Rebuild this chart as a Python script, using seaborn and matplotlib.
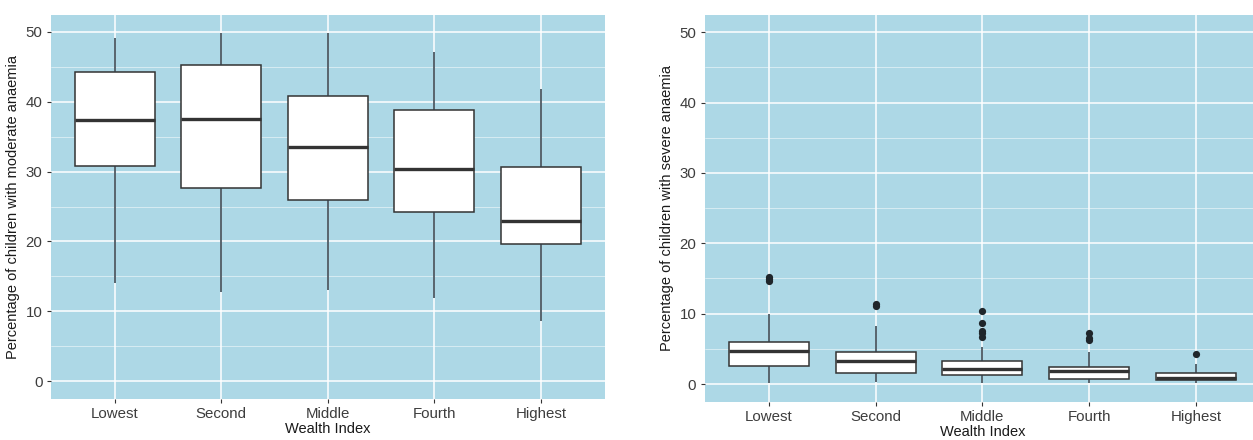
import numpy as np
import pandas as pd
import matplotlib
matplotlib.use("Agg")
import matplotlib.pyplot as plt
from matplotlib.ticker import MultipleLocator
import seaborn as sns

# Wealth index groups
categories = ["Lowest", "Second", "Middle", "Fourth", "Highest"]

# Moderate anaemia: five-number summaries per wealth group
moderate_low = [14.0, 12.7, 13.0, 11.9, 8.6]
moderate_q1 = [30.8, 27.6, 25.9, 24.2, 19.6]
moderate_med = [37.4, 37.5, 33.5, 30.4, 22.9]
moderate_q3 = [44.3, 45.3, 40.9, 38.8, 30.6]
moderate_high = [49.2, 49.9, 49.9, 47.2, 41.8]

# Severe anaemia: five-number summaries per wealth group
severe_low = [0.1, 0.3, 0.1, 0.1, 0.1]
severe_q1 = [2.5, 1.6, 1.3, 0.7, 0.5]
severe_med = [4.7, 3.2, 2.1, 1.8, 0.8]
severe_q3 = [5.9, 4.5, 3.3, 2.4, 1.6]
severe_high = [10.0, 8.3, 5.3, 4.5, 2.8]

# Severe anaemia: outlying districts
severe_outlier_group = ["Lowest", "Lowest", "Lowest", "Second", "Second",
                        "Middle", "Middle", "Middle", "Middle", "Middle",
                        "Fourth", "Fourth", "Fourth", "Highest"]
severe_outlier_value = [14.6, 14.9, 15.2, 11.1, 11.4,
                        6.7, 7.2, 7.6, 8.7, 10.4,
                        6.3, 6.6, 7.2, 4.3]


def summary_frame(lo, q1, med, q3, hi):
    rows = []
    for i, cat in enumerate(categories):
        for v in (lo[i], q1[i], med[i], q3[i], hi[i]):
            rows.append({"group": cat, "value": v})
    return pd.DataFrame(rows)


moderate_df = summary_frame(moderate_low, moderate_q1, moderate_med,
                            moderate_q3, moderate_high)
severe_df = summary_frame(severe_low, severe_q1, severe_med,
                          severe_q3, severe_high)
outlier_df = pd.DataFrame({"group": severe_outlier_group,
                           "value": severe_outlier_value})

sns.set_theme(style="white")
plt.rcParams["font.family"] = ["Liberation Sans", "DejaVu Sans"]

PANEL_BG = "#ADD8E6"
LINE = "#333333"
TICK_TXT = "#3d3d3d"

fig = plt.figure(figsize=(12.53, 4.40), dpi=100)
ax1 = fig.add_axes([0.0405, 0.0943, 0.4423, 0.8727])
ax2 = fig.add_axes([0.5624, 0.0873, 0.4432, 0.8793])


def draw_panel(ax, df, ylabel, outliers=None):
    ax.set_facecolor(PANEL_BG)
    sns.boxplot(data=df, x="group", y="value", order=categories, ax=ax,
                whis=(0, 100), width=0.75, fill=True, color="white",
                linecolor=LINE, linewidth=1.1, showfliers=False,
                boxprops=dict(facecolor="white", edgecolor=LINE),
                medianprops=dict(color=LINE, linewidth=2.4),
                whiskerprops=dict(color="#2f3d47", linewidth=1.1),
                capprops=dict(linewidth=0))
    if outliers is not None:
        sns.stripplot(data=outliers, x="group", y="value", order=categories,
                      ax=ax, jitter=False, color="#1f262b", size=5.2,
                      linewidth=0, zorder=5)
    ax.set_xlim(-0.6, 4.6)
    ax.set_ylim(-2.5, 52.5)
    ax.yaxis.set_major_locator(MultipleLocator(10))
    ax.yaxis.set_minor_locator(MultipleLocator(5))
    ax.set_axisbelow(True)
    ax.grid(True, which="major", axis="both", color="white", linewidth=1.1)
    ax.grid(True, which="minor", axis="y", color="white", linewidth=0.5,
            alpha=0.7)
    for s in ax.spines.values():
        s.set_visible(False)
    ax.tick_params(axis="both", which="major", length=3, width=0.8,
                   color=LINE, labelsize=10.8, labelcolor=TICK_TXT, pad=3)
    ax.tick_params(axis="y", which="minor", length=0)
    ax.tick_params(bottom=True, left=True)
    ax.set_xlabel("Wealth Index", fontsize=10.5, color="#1a1a1a", labelpad=1)
    ax.set_ylabel(ylabel, fontsize=10.5, color="#1a1a1a", labelpad=4)


draw_panel(ax1, moderate_df, "Percentage of children with moderate anaemia")
draw_panel(ax2, severe_df, "Percentage of children with severe anaemia",
           outliers=outlier_df)

fig.savefig("out.png", dpi=100, facecolor="white")
